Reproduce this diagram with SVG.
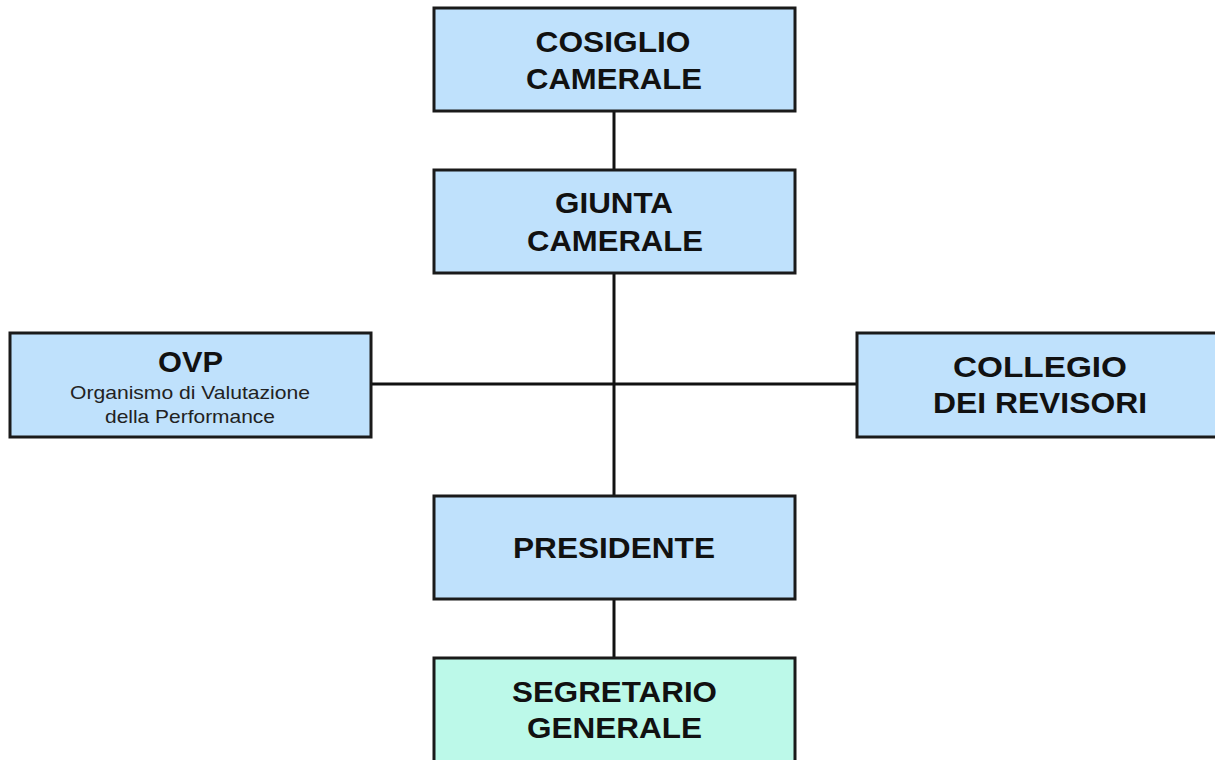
<svg xmlns="http://www.w3.org/2000/svg" width="1215" height="760" viewBox="0 0 1215 760">
<style>
.box{fill:#bfe1fc;stroke:#1a1a1a;stroke-width:3}
.green{fill:#bcf9e9}
.t{font-family:"Liberation Sans",Arial,sans-serif;font-weight:bold;font-size:29.5px;fill:#111;text-anchor:middle}
.s{font-family:"Liberation Sans",Arial,sans-serif;font-size:18.5px;fill:#222;text-anchor:middle}
.c{stroke:#111;stroke-width:3;fill:none}
</style>
<rect width="1215" height="760" fill="#fff"/>
<g id="connectors">
<line class="c" x1="614" y1="111" x2="614" y2="170"/>
<line class="c" x1="614" y1="273" x2="614" y2="495"/>
<line class="c" x1="371" y1="384" x2="857" y2="384"/>
<line class="c" x1="614" y1="599" x2="614" y2="658"/>
</g>
<g id="consiglio">
<rect class="box" x="434" y="8" width="361" height="103"/>
<text class="t" x="613" y="51.5" textLength="155" lengthAdjust="spacingAndGlyphs">COSIGLIO</text>
<text class="t" x="614" y="88.5" textLength="176" lengthAdjust="spacingAndGlyphs">CAMERALE</text>
</g>
<g id="giunta">
<rect class="box" x="434" y="170" width="361" height="103"/>
<text class="t" x="614" y="213" textLength="118" lengthAdjust="spacingAndGlyphs">GIUNTA</text>
<text class="t" x="615" y="250.5" textLength="176" lengthAdjust="spacingAndGlyphs">CAMERALE</text>
</g>
<g id="ovp">
<rect class="box" x="10" y="333" width="361" height="104"/>
<text class="t" x="190.5" y="371.5" textLength="65" lengthAdjust="spacingAndGlyphs">OVP</text>
<text class="s" x="190" y="399" textLength="240" lengthAdjust="spacingAndGlyphs">Organismo di Valutazione</text>
<text class="s" x="190" y="423" textLength="170" lengthAdjust="spacingAndGlyphs">della Performance</text>
</g>
<g id="collegio">
<rect class="box" x="857" y="333" width="361" height="104"/>
<text class="t" x="1040" y="376.5" textLength="174" lengthAdjust="spacingAndGlyphs">COLLEGIO</text>
<text class="t" x="1040" y="413" textLength="214" lengthAdjust="spacingAndGlyphs">DEI REVISORI</text>
</g>
<g id="presidente">
<rect class="box" x="434" y="496" width="361" height="103"/>
<text class="t" x="614" y="558" textLength="202" lengthAdjust="spacingAndGlyphs">PRESIDENTE</text>
</g>
<g id="segretario">
<rect class="box green" x="434" y="658" width="361" height="110"/>
<text class="t" x="614.5" y="701.5" textLength="205" lengthAdjust="spacingAndGlyphs">SEGRETARIO</text>
<text class="t" x="614.5" y="738" textLength="175" lengthAdjust="spacingAndGlyphs">GENERALE</text>
</g>
</svg>
